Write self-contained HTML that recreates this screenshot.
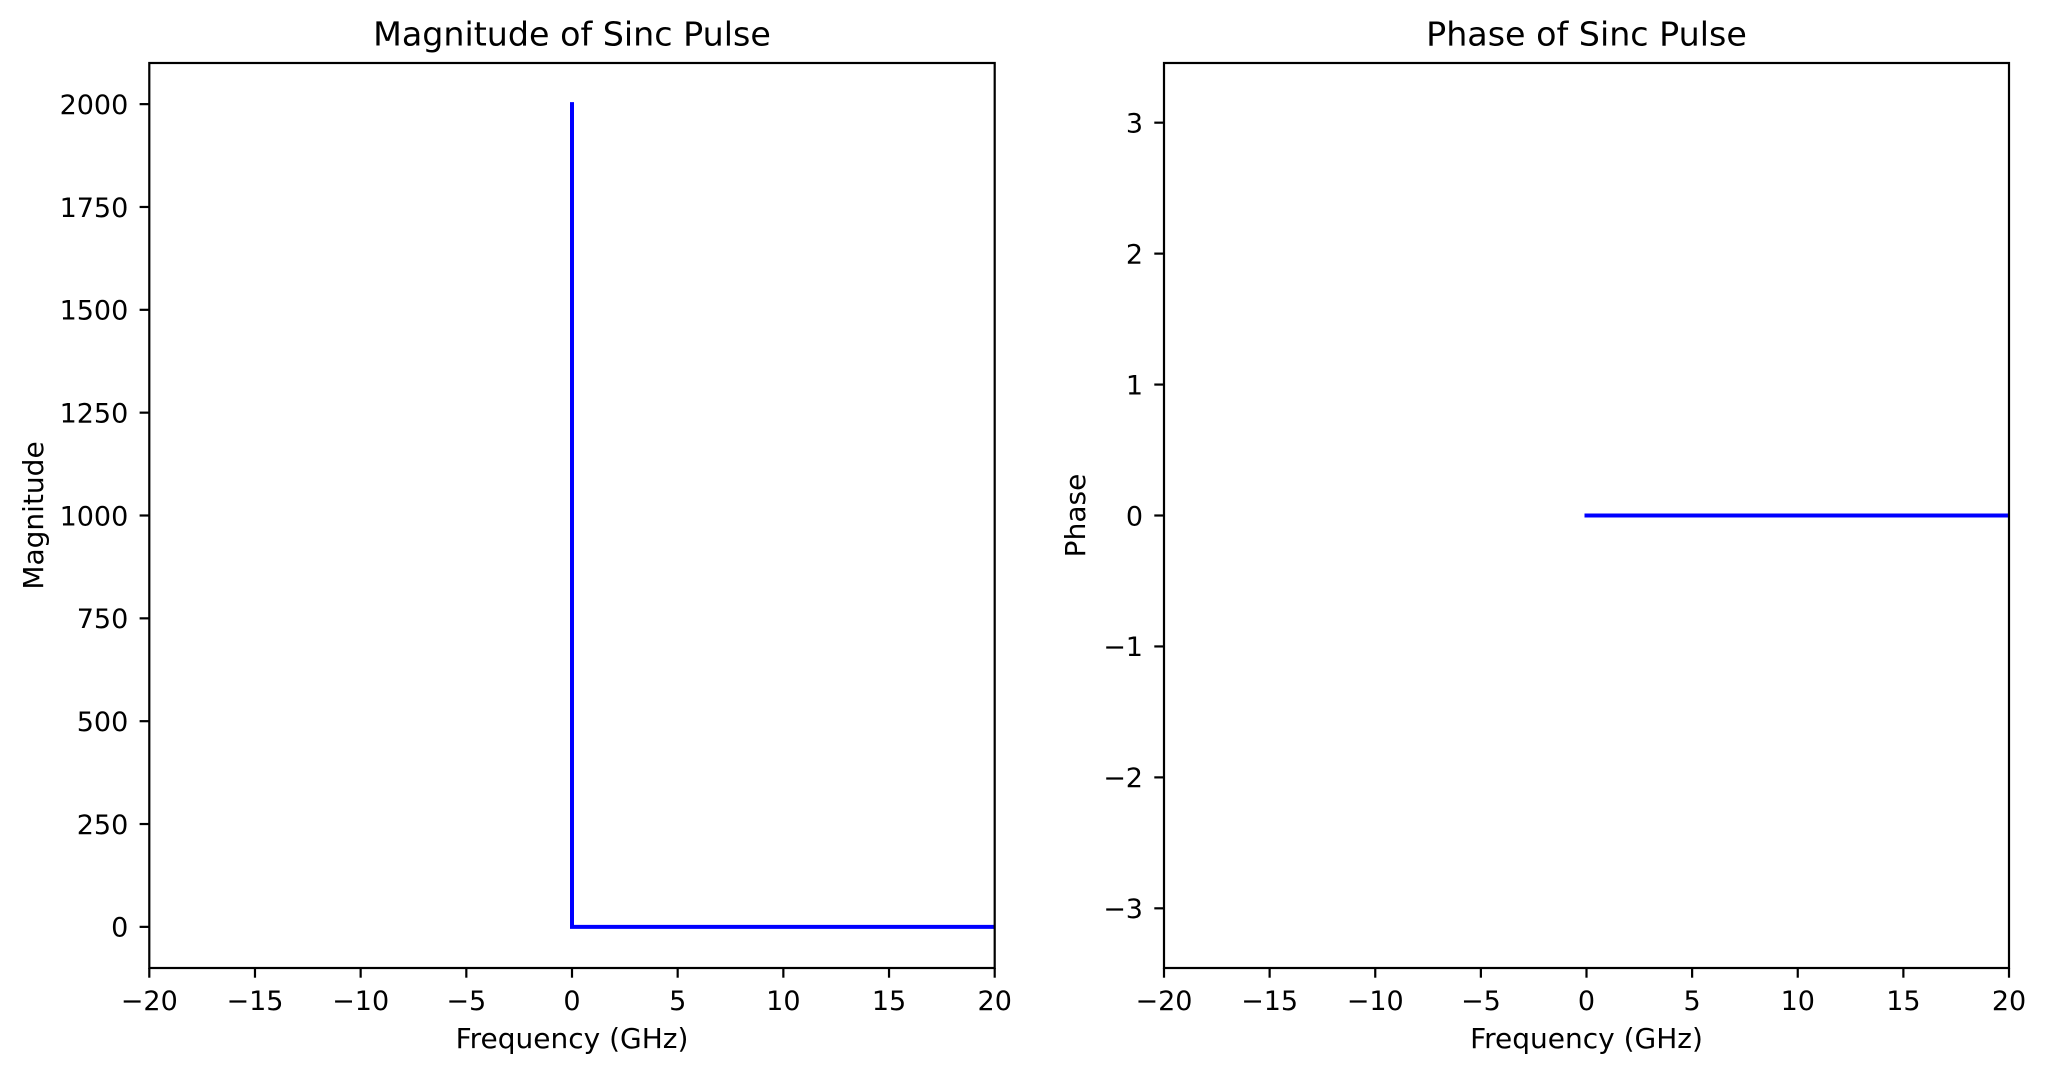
<!DOCTYPE html>
<html><head><meta charset="utf-8">
<style>
html,body{margin:0;padding:0;background:#fff;}
svg{display:block;}
text{font-family:"DejaVu Sans","Liberation Sans",sans-serif;fill:#000;}
</style></head>
<body>
<svg id="fig" width="2046" height="1075" viewBox="0 0 2046 1075" xmlns="http://www.w3.org/2000/svg">
<rect width="2046" height="1075" fill="#fff"/>
</svg>
<script>
// Data
const magFreq = [0, 0, 20];
const magValues = [2000, 0, 0];
const phaseFreq = [0, 20];
const phaseValues = [0, 0];
const xTicks = [-20, -15, -10, -5, 0, 5, 10, 15, 20];
const magTicks = [0, 250, 500, 750, 1000, 1250, 1500, 1750, 2000];
const phaseTicks = [-3, -2, -1, 0, 1, 2, 3];

const NS = 'http://www.w3.org/2000/svg';
const svg = document.getElementById('fig');
function mk(tag, attrs, parent) {
  const e = document.createElementNS(NS, tag);
  for (const k in attrs) e.setAttribute(k, attrs[k]);
  (parent || svg).appendChild(e);
  return e;
}
function fmt(v){ return (v < 0 ? '\u2212' + Math.abs(v) : String(v)); }

function panel(cfg) {
  const g = mk('g', {});
  
  
  const L = cfg.left, R = cfg.right, T = 63, B = 968;
  const sx = v => L + (v - cfg.xmin) / (cfg.xmax - cfg.xmin) * (R - L);
  const sy = v => B - (v - cfg.ymin) / (cfg.ymax - cfg.ymin) * (B - T);

  const cp = mk('clipPath', {id: cfg.name + '-clip'}, g);
  mk('rect', {x: L, y: T, width: R - L, height: B - T}, cp);
  let d = '';
  for (let i = 0; i < cfg.xs.length; i++) d += (i ? 'L' : 'M') + sx(cfg.xs[i]).toFixed(2) + ' ' + sy(cfg.ys[i]).toFixed(2);
  const line = mk('path', {d: d, fill: 'none', stroke: '#0000ff', 'stroke-width': 4, 'stroke-linecap': 'square', 'clip-path': 'url(#' + cfg.name + '-clip)'}, g);
  
  

  const fr = mk('rect', {x: L, y: T, width: R - L, height: B - T, fill: 'none', stroke: '#000', 'stroke-width': 2.2}, g);
  
  

  xTicks.forEach(v => {
    const x = sx(v);
    mk('line', {x1: x, y1: B, x2: x, y2: B + 9.7, stroke: '#000', 'stroke-width': 2.2}, g);
    const t = mk('text', {x: x, y: 1010, 'font-size': 27, 'text-anchor': 'middle'}, g);
    t.textContent = fmt(v);
    
    
  });
  cfg.yTicks.forEach(v => {
    const y = sy(v);
    mk('line', {x1: L - 9.7, y1: y, x2: L, y2: y, stroke: '#000', 'stroke-width': 2.2}, g);
    const t = mk('text', {x: L - 21, y: y + 9.8, 'font-size': 27, 'text-anchor': 'end'}, g);
    t.textContent = fmt(v);
    
    
  });
  const tt = mk('text', {x: (L + R) / 2, y: 45.7, 'font-size': 33.3, 'text-anchor': 'middle'}, g);
  tt.textContent = cfg.title;
  
  
  const xl = mk('text', {x: (L + R) / 2, y: 1048, 'font-size': 28, 'text-anchor': 'middle'}, g);
  xl.textContent = 'Frequency (GHz)';
  
  
  const yx = cfg.ylabelX, yy = (T + B) / 2;
  const yl = mk('text', {x: yx, y: yy, 'font-size': 28, 'text-anchor': 'middle', transform: 'rotate(-90 ' + yx + ' ' + yy + ')'}, g);
  yl.textContent = cfg.ylabel;
  
  
}

panel({name: 'magnitude-plot', left: 149.3, right: 994.7, xmin: -20, xmax: 20, ymin: -100, ymax: 2100,
  xs: magFreq, ys: magValues, yTicks: magTicks, title: 'Magnitude of Sinc Pulse', ylabel: 'Magnitude', ylabelX: 43});
panel({name: 'phase-plot', left: 1164, right: 2009, xmin: -20, xmax: 20, ymin: -1.1 * Math.PI, ymax: 1.1 * Math.PI,
  xs: phaseFreq, ys: phaseValues, yTicks: phaseTicks, title: 'Phase of Sinc Pulse', ylabel: 'Phase', ylabelX: 1085});
</script>
</body></html>
